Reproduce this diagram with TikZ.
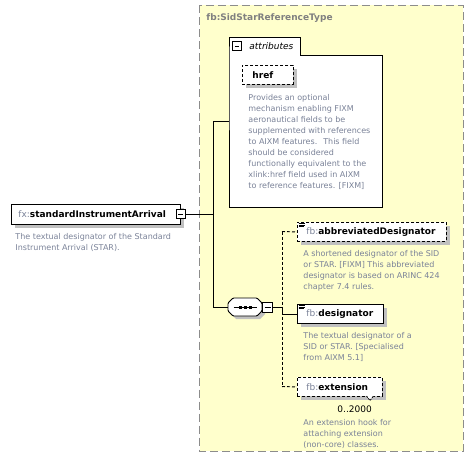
\documentclass[tikz,border=0pt]{standalone}
\usepackage{fontspec}
\setmainfont{DejaVu Sans}
\usetikzlibrary{shadows}
\definecolor{ybg}{RGB}{255,255,204}
\definecolor{bord}{RGB}{140,140,140}
\definecolor{desc}{RGB}{122,130,152}
\definecolor{pre}{RGB}{122,130,152}
\definecolor{ttl}{RGB}{128,128,128}
\definecolor{shd}{RGB}{192,192,192}
\begin{document}
\begin{tikzpicture}[x=1pt,y=-1pt,line width=0.9pt,
  elem/.style={draw, fill=white, anchor=north west, minimum height=19pt, inner ysep=0pt,
    align=left, font=\fontsize{9}{11}\selectfont,
    drop shadow={shadow xshift=4pt, shadow yshift=-4pt, fill=shd, opacity=1}},
  optelem/.style={elem, dash pattern=on 3pt off 2pt},
  desctext/.style={anchor=north west, inner sep=0pt, align=left, text=desc,
    font=\fontsize{8}{11}\selectfont},
  minusbox/.style={draw, fill=white, minimum size=9pt, inner sep=0pt, line width=0.9pt,
    path picture={\draw[line width=0.8pt] ([xshift=2pt]path picture bounding box.west) -- ([xshift=-2pt]path picture bounding box.east);}},
  conn/.style={draw, line width=0.9pt},
  optconn/.style={draw, line width=0.9pt, dash pattern=on 3pt off 2pt}
]
\useasboundingbox (0,0) rectangle (474,468);

% complex type container
\draw[bord, fill=ybg, line width=1pt, dash pattern=on 8pt off 4pt] (199.5,5.5) rectangle (463,451);
\node[anchor=base west, inner sep=0pt, text=ttl, font=\fontsize{9}{11}\selectfont\bfseries] (ttl) at (206,21) {fb:SidStarReferenceType};

% attributes group
\draw[fill=white] (229,55) -- (229,37) -- (300,37) -- (300,55) -- (382,55) -- (382,207) -- (229,207) -- cycle;
\node[minusbox, minimum size=8.5pt] (attrm) at (237,46) {};
\node[anchor=base west, inner sep=0pt, font=\fontsize{9}{11}\selectfont\itshape] (attrlbl) at (249,50) {attributes};
\coordinate (attrin) at (229,121);

\node[optelem, text width=31pt, inner xsep=10pt] (href) at (242,65) {\textbf{href}};
\node[desctext] (hrefd) at (248,93.8) {Provides an optional\\mechanism enabling FIXM\\aeronautical fields to be\\supplemented with references\\to AIXM features.~ This field\\should be considered\\functionally equivalent to the\\xlink:href field used in AIXM\\to reference features. [FIXM]};

% root element
\node[elem, minimum height=20pt, text width=155pt, inner xsep=7pt] (sia) at (11,204) {\textcolor{pre}{fx:}\textbf{standardInstrumentArrival}};
\node[minusbox] (siam) at (180.5,214) {};
\node[desctext] (siad) at (15,232.8) {The textual designator of the Standard\\Instrument Arrival (STAR).};
\coordinate (j1) at (213,214);
\coordinate (seqw) at (228,307);

% sequence compositor
\fill[shd] (231,306) -- (236,301) -- (260,301) -- (265,306) -- (265,314) -- (260,319) -- (236,319) -- (231,314) -- cycle;
\draw[fill=white, rounded corners=1pt] (228,303) -- (233,298) -- (257,298) -- (262,303) -- (262,311) -- (257,316) -- (233,316) -- (228,311) -- cycle;
\draw[line width=0.8pt] (233.5,307) -- (256.5,307);
\fill (238.5,305.5) rectangle ++(3,3);
\fill (243.5,305.5) rectangle ++(3,3);
\fill (248.5,305.5) rectangle ++(3,3);
\node[minusbox, minimum size=10pt] (seqm) at (267.5,307) {};
\coordinate (bus) at (282,307);
\coordinate (bustop) at (282,231.5);
\coordinate (busbot) at (282,386.5);

% children
\node[optelem, text width=131pt, inner xsep=9pt] (abbr) at (297,222) {\textcolor{pre}{fb:}\textbf{abbreviatedDesignator}};
\node[desctext] (abbrd) at (303,249.8) {A shortened designator of the SID\\or STAR. [FIXM] This abbreviated\\designator is based on ARINC 424\\chapter 7.4 rules.};

\node[elem, text width=68pt, inner xsep=9pt] (desig) at (297,304) {\textcolor{pre}{fb:}\textbf{designator}};
\node[desctext] (desigd) at (303,331.8) {The textual designator of a\\SID or STAR. [Specialised\\from AIXM 5.1]};

\node[optelem, text width=67pt, inner xsep=9pt] (ext) at (297,377) {\textcolor{pre}{fb:}\textbf{extension}};
\draw[fill=white, line width=0.8pt, dash pattern=on 2pt off 1pt] (366.5,396) -- (370,400.5) -- (373.5,396);
\node[anchor=west, inner sep=0pt, font=\fontsize{9}{11}\selectfont] (occ) at (337,409.5) {0..2000};
\node[desctext] (extd) at (303,419) {An extension hook for\\attaching extension\\(non-core) classes.};

% doc icons
\foreach \n in {abbr,desig} {
  \draw[line width=0.6pt] ([xshift=1.5pt,yshift=-1.2pt]\n.north west) -- ++(6,0);
  \draw[line width=0.6pt] ([xshift=1.5pt,yshift=-2.8pt]\n.north west) -- ++(6,0);
  \draw[line width=0.6pt] ([xshift=1.5pt,yshift=-4.4pt]\n.north west) -- ++(5,0);
}

% connectors
\path[conn] (siam.east) -- (j1);
\path[conn] (j1) |- (attrin);
\path[conn] (j1) |- (seqw);
\path[conn] (seqm.east) -- (bus);
\path[optconn] (bustop) -- (busbot);
\path[conn] (bus) |- (desig.west);
\path[optconn] (bustop) -- (abbr.west);
\path[optconn] (busbot) -- (ext.west);
\end{tikzpicture}
\end{document}
